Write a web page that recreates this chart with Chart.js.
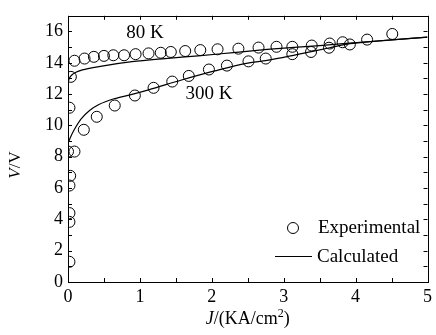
<!DOCTYPE html>
<html>
<head>
<meta charset="utf-8">
<script src="https://cdn.jsdelivr.net/npm/chart.js@4.4.0/dist/chart.umd.min.js"></script>
<style>
  html, body { margin: 0; padding: 0; background: #fff; }
  #wrap { width: 436px; height: 335px; }
</style>
</head>
<body>
<div id="wrap"><canvas id="grafico"></canvas></div>
<script>
// Datos
const exp80X = [0.04, 0.09, 0.23, 0.36, 0.50, 0.63, 0.78, 0.94, 1.12, 1.29, 1.43, 1.63, 1.84, 2.08, 2.37, 2.65, 2.90, 3.12, 3.39, 3.64, 3.82, 4.16, 4.51];
const exp80Y = [13.1, 14.13, 14.27, 14.38, 14.44, 14.48, 14.48, 14.55, 14.6, 14.64, 14.69, 14.75, 14.81, 14.86, 14.9, 14.97, 15.02, 15.02, 15.1, 15.23, 15.31, 15.48, 15.84];

const exp300X = [0.02, 0.02, 0.02, 0.02, 0.03, 0.02, 0.0, 0.09, 0.22, 0.40, 0.65, 0.93, 1.19, 1.45, 1.68, 1.96, 2.21, 2.51, 2.75, 3.12, 3.38, 3.63, 3.92];
const exp300Y = [1.29, 3.84, 4.4, 6.16, 6.78, 11.13, 8.33, 8.33, 9.72, 10.55, 11.27, 11.91, 12.4, 12.8, 13.16, 13.57, 13.82, 14.09, 14.27, 14.55, 14.69, 14.96, 15.17];

const calc80X = [0, 0.01, 0.03, 0.06, 0.11, 0.2, 0.43, 0.89, 1.35, 1.81, 2.3, 2.77, 3.5, 4.2, 5.0];
const calc80Y = [12.6, 12.9, 13.1, 13.25, 13.4, 13.55, 13.76, 14.07, 14.27, 14.44, 14.65, 14.85, 15.1, 15.36, 15.64];

const calc300X = [0, 0.03, 0.09, 0.18, 0.3, 0.43, 0.64, 0.89, 1.12, 1.58, 2.04, 2.5, 2.77, 3.18, 3.64, 3.92, 4.3, 5.0];
const calc300Y = [8.85, 9.2, 9.75, 10.4, 10.95, 11.33, 11.7, 11.98, 12.27, 12.9, 13.48, 13.98, 14.15, 14.52, 14.96, 15.22, 15.38, 15.64];

const xTicks = [0, 1, 2, 3, 4, 5];
const yTicks = [0, 2, 4, 6, 8, 10, 12, 14, 16];
const xMinor = [0, 0.5, 1, 1.5, 2, 2.5, 3, 3.5, 4, 4.5, 5];
const yMinor = [0, 1, 2, 3, 4, 5, 6, 7, 8, 9, 10, 11, 12, 13, 14, 15, 16, 17];

const serie = (xs, ys) => xs.map((x, i) => ({ x: x, y: ys[i] }));
const FUENTE = '"Liberation Serif", "Times New Roman", serif';

// marco, ticks hacia adentro, textos y leyenda
const decoracion = {
  id: 'decoracion',
  afterDraw(chart) {
    const c = chart.ctx;
    const a = chart.chartArea;
    const sx = chart.scales.x, sy = chart.scales.y;
    c.save();
    c.strokeStyle = '#000';
    c.lineWidth = 1;
    c.strokeRect(Math.round(a.left) + 0.5, Math.round(a.top) + 0.5, Math.round(a.right - a.left), Math.round(a.bottom - a.top));
    c.beginPath();
    xMinor.forEach(v => {
      const px = Math.round(sx.getPixelForValue(v)) + 0.5;
      c.moveTo(px, a.bottom); c.lineTo(px, a.bottom - 4);
      c.moveTo(px, a.top); c.lineTo(px, a.top + 4);
    });
    yMinor.forEach(v => {
      const py = Math.round(sy.getPixelForValue(v)) + 0.5;
      c.moveTo(a.left, py); c.lineTo(a.left + 4, py);
      c.moveTo(a.right, py); c.lineTo(a.right - 4, py);
    });
    c.stroke();

    c.fillStyle = '#000';
    c.font = '19px ' + FUENTE;
    c.textAlign = 'center';
    c.textBaseline = 'middle';
    c.fillText('80 K', sx.getPixelForValue(1.07), sy.getPixelForValue(15.93));
    c.fillText('300 K', sx.getPixelForValue(1.96), sy.getPixelForValue(12.02));

    // título eje x
    const cx = (a.left + a.right) / 2, cy = 318;
    c.font = 'italic 18px ' + FUENTE;
    const wJ = c.measureText('J').width;
    c.font = '18px ' + FUENTE;
    const w1 = c.measureText('/(KA/cm').width;
    const w3 = c.measureText(')').width;
    c.font = '12px ' + FUENTE;
    const w2 = c.measureText('2').width;
    let x0 = cx - (wJ + w1 + w2 + w3) / 2;
    c.textAlign = 'left';
    c.textBaseline = 'alphabetic';
    c.font = 'italic 18px ' + FUENTE;
    c.fillText('J', x0, cy + 6); x0 += wJ;
    c.font = '18px ' + FUENTE;
    c.fillText('/(KA/cm', x0, cy + 6); x0 += w1;
    c.font = '12px ' + FUENTE;
    c.fillText('2', x0, cy - 1); x0 += w2;
    c.font = '18px ' + FUENTE;
    c.fillText(')', x0, cy + 6);

    // título eje y
    c.save();
    c.translate(16, 165);
    c.rotate(-Math.PI / 2);
    c.font = 'italic 17px ' + FUENTE;
    const wV = c.measureText('V').width;
    c.font = '17px ' + FUENTE;
    const wR = c.measureText('/V').width;
    let y0 = -(wV + wR) / 2;
    c.textBaseline = 'middle';
    c.font = 'italic 17px ' + FUENTE;
    c.fillText('V', y0, 0);
    c.font = '17px ' + FUENTE;
    c.fillText('/V', y0 + wV, 0);
    c.restore();

    // leyenda
    c.beginPath();
    c.arc(293, 228, 5.5, 0, Math.PI * 2);
    c.stroke();
    c.beginPath();
    c.moveTo(275, 256.5); c.lineTo(312, 256.5);
    c.stroke();
    c.font = '19px ' + FUENTE;
    c.textBaseline = 'middle';
    c.fillText('Experimental', 318, 228);
    c.fillText('Calculated', 317, 257);
    c.restore();
  }
};

const puntos = { showLine: false, pointStyle: 'circle', pointRadius: 5.5, pointHoverRadius: 5.5,
  borderColor: '#000', backgroundColor: 'rgba(0,0,0,0)', pointBorderWidth: 1, clip: 0 };
const curva = { type: 'line', showLine: true, pointRadius: 0, borderColor: '#000', borderWidth: 1.2,
  cubicInterpolationMode: 'monotone', fill: false, clip: 0 };

new Chart(document.getElementById('grafico'), {
  type: 'scatter',
  data: {
    datasets: [
      Object.assign({ label: '80 K calc', data: serie(calc80X, calc80Y) }, curva),
      Object.assign({ label: '300 K calc', data: serie(calc300X, calc300Y) }, curva),
      Object.assign({ label: '80 K exp', data: serie(exp80X, exp80Y) }, puntos),
      Object.assign({ label: '300 K exp', data: serie(exp300X, exp300Y) }, puntos)
    ]
  },
  options: {
    responsive: true,
    maintainAspectRatio: false,
    animation: false,
    devicePixelRatio: 1,
    layout: { padding: { left: 0, right: 4, top: 8, bottom: 0 } },
    plugins: { legend: { display: false }, tooltip: { enabled: false } },
    scales: {
      x: {
        type: 'linear', min: 0, max: 5,
        afterFit: s => { s.height = 53; },
        afterBuildTicks: s => { s.ticks = xTicks.map(v => ({ value: v })); },
        grid: { display: false, drawTicks: false },
        border: { display: false },
        ticks: { color: '#000', padding: 4, maxRotation: 0, font: { family: FUENTE, size: 18 } }
      },
      y: {
        type: 'linear', min: 0, max: 17,
        afterFit: s => { s.width = 68; },
        afterBuildTicks: s => { s.ticks = yTicks.map(v => ({ value: v })); },
        grid: { display: false, drawTicks: false },
        border: { display: false },
        ticks: { color: '#000', padding: 5, font: { family: FUENTE, size: 18 } }
      }
    }
  },
  plugins: [decoracion]
});
</script>
</body>
</html>
